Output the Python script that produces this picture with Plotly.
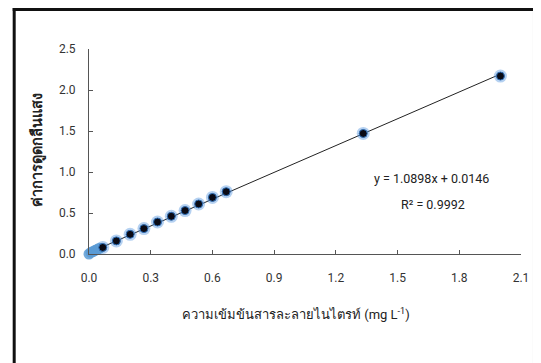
import plotly.graph_objects as go

# ---- data ----
low_x = [0.0, 0.01, 0.02, 0.03, 0.04, 0.05]
low_y = [0.00, 0.02, 0.03, 0.045, 0.055, 0.07]

std_x = [0.067, 0.133, 0.200, 0.267, 0.333, 0.400, 0.467, 0.533, 0.600, 0.667, 1.333, 2.000]
std_y = [0.08, 0.16, 0.24, 0.31, 0.39, 0.46, 0.53, 0.61, 0.69, 0.76, 1.47, 2.17]

slope = 1.0898
intercept = 0.0146
r2 = 0.9992
fit_x = [0.0, 2.0]

x_ticks = [0.0, 0.3, 0.6, 0.9, 1.2, 1.5, 1.8, 2.1]
y_ticks = [0.0, 0.5, 1.0, 1.5, 2.0, 2.5]

x_title = "ความเข้มข้นสารละลายไนไตรท์ (mg L<sup>-1</sup>)"
y_title = "<b>ค่าการดูดกลืนแสง</b>"

fit_y = [intercept + slope * v for v in fit_x]

FONT = "Roboto, Liberation Sans, sans-serif"

# page offset of the figure (body margin)
OFF = 8
W, H = 541 - OFF, 363 - OFF

fig = go.Figure()

# trend line
fig.add_trace(go.Scatter(x=fit_x, y=fit_y, mode="lines",
                         line=dict(color="#222222", width=1),
                         hoverinfo="skip", showlegend=False, cliponaxis=False))
# glow under the standard points
fig.add_trace(go.Scatter(x=std_x, y=std_y, mode="markers",
                         marker=dict(size=13, color="rgba(70,140,220,0.4)", line=dict(width=0)),
                         hoverinfo="skip", showlegend=False, cliponaxis=False))
# low concentration points (light blue)
fig.add_trace(go.Scatter(x=low_x, y=low_y, mode="markers",
                         marker=dict(size=11, color="rgba(91,155,213,0.85)", line=dict(width=0)),
                         showlegend=False, cliponaxis=False))
# standard points
fig.add_trace(go.Scatter(x=std_x, y=std_y, mode="markers",
                         marker=dict(size=8, color="#0a0a14",
                                     line=dict(color="#2f6fb8", width=1)),
                         showlegend=False, cliponaxis=False))

axis_common = dict(showline=True, linecolor="#555555", linewidth=1,
                   ticks="inside", ticklen=4, tickcolor="#555555", tickwidth=1,
                   showgrid=False, zeroline=False,
                   tickfont=dict(family=FONT, size=12, color="#333333"))

fig.update_xaxes(range=[0, 2.1], tickvals=x_ticks,
                 ticktext=[f"{v:.1f}" for v in x_ticks],
                 ticklabelstandoff=13, **axis_common)
fig.update_yaxes(range=[0, 2.5], tickvals=y_ticks,
                 ticktext=[f"{v:.1f}" for v in y_ticks],
                 ticklabelstandoff=10, **axis_common)

# plot area in page pixels: x 89..525, y 49..254
L = 89 - OFF
R = W - (525 - OFF)
T = 49 - OFF
B = H - (254 - OFF)
PW, PH = W - L - R, H - T - B


def px(page_x):
    return (page_x - OFF - L) / PW


def py(page_y):
    return (H - B - (page_y - OFF)) / PH


ann = [
    dict(text=f"y = {slope:.4f}x + {intercept:.4f}", x=px(435), y=py(178),
         xref="paper", yref="paper", showarrow=False,
         font=dict(family=FONT, size=12.5, color="#222222"),
         xanchor="center", yanchor="middle"),
    dict(text=f"R² = {r2:.4f}", x=px(436), y=py(204),
         xref="paper", yref="paper", showarrow=False,
         font=dict(family=FONT, size=12.5, color="#222222"),
         xanchor="center", yanchor="middle"),
    dict(text=x_title, x=px(298), y=py(314),
         xref="paper", yref="paper", showarrow=False,
         font=dict(family=FONT, size=13, color="#222222"),
         xanchor="center", yanchor="middle"),
    dict(text=y_title, x=px(37), y=py(150),
         xref="paper", yref="paper", showarrow=False, textangle=-90,
         font=dict(family=FONT, size=14.5, color="#222222"),
         xanchor="center", yanchor="middle"),
]

shapes = [
    dict(type="line", xref="paper", yref="paper", x0=px(13.5), x1=px(13.5), y0=py(8), y1=py(380),
         line=dict(color="#111111", width=3)),
    dict(type="line", xref="paper", yref="paper", x0=px(12), x1=px(545), y0=py(9.5), y1=py(9.5),
         line=dict(color="#111111", width=3)),
    dict(type="line", xref="paper", yref="paper", x0=px(537.5), x1=px(537.5), y0=py(11), y1=py(380),
         line=dict(color="#d8d8d8", width=1)),
]

fig.update_layout(width=W, height=H,
                  margin=dict(l=L, r=R, t=T, b=B),
                  paper_bgcolor="white", plot_bgcolor="white",
                  annotations=ann, shapes=shapes, showlegend=False)

fig.write_html("out.html")
